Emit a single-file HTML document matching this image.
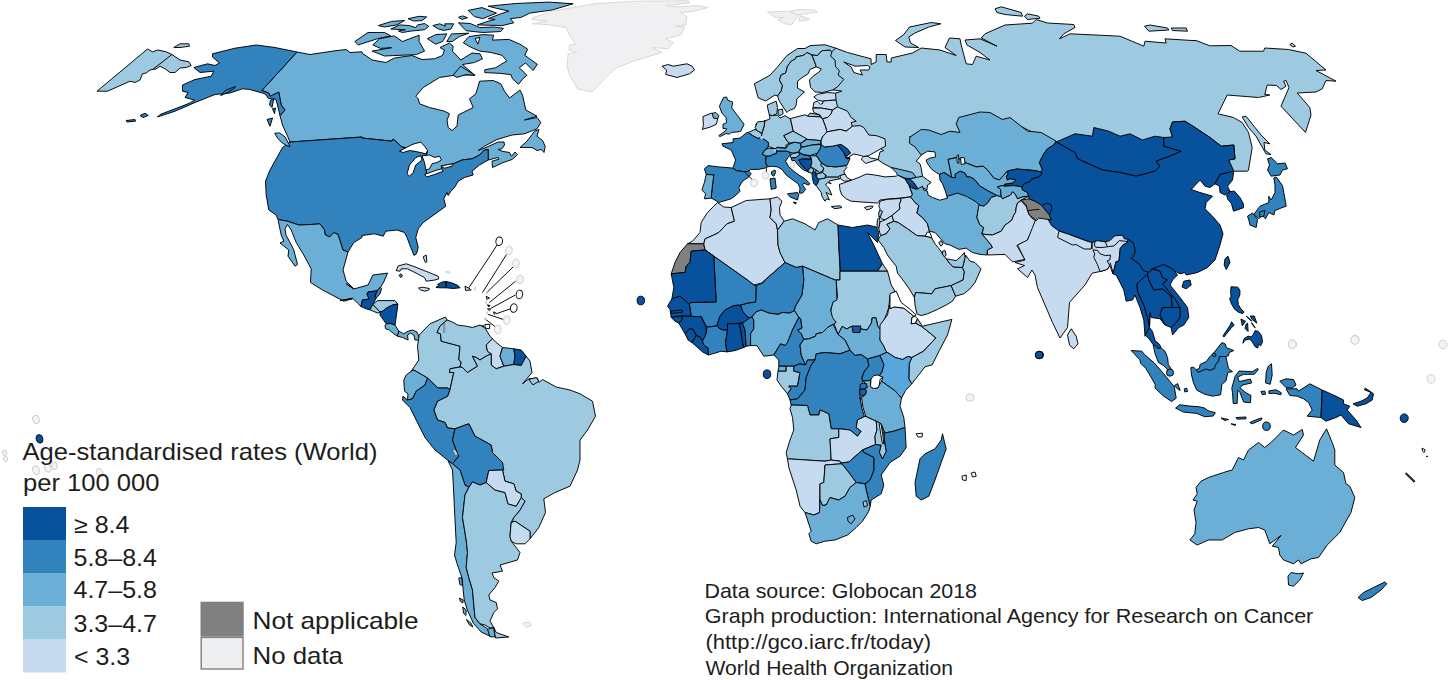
<!DOCTYPE html>
<html lang="en">
<head>
<meta charset="utf-8">
<title>Age-standardised rates (World) per 100 000 – Globocan 2018</title>
<style>
html,body{margin:0;padding:0;background:#fff;}
body{width:1448px;height:680px;overflow:hidden;position:relative;font-family:"Liberation Sans",sans-serif;color:#1a1a1a;}
svg{position:absolute;left:0;top:0;}
svg.txt text{font-family:"Liberation Sans",sans-serif;}
svg.map path,svg.map circle,svg.map ellipse{stroke:#000;stroke-width:.95;stroke-linejoin:round;}
.c5{fill:#08519c}.c4{fill:#3182bd}.c3{fill:#6baed6}.c2{fill:#9ecae1}.c1{fill:#c6dbef}.na{fill:#808080}
.map .nd{fill:#f0f0f2;stroke:#d6d6d6}.w{fill:#fff}
.map .ul{fill:#7fb8dc;stroke:none}
.map .ln{fill:none}
.map .lk{fill:#cfd8e2;stroke:#444;stroke-width:.5}
.map .dot{fill:#f4f4f4;stroke:#c4c4c4;stroke-width:.8}
</style>
</head>
<body>
<svg class="map" width="1448" height="680" viewBox="0 0 1448 680">
<!-- 05_pacific.txt -->
<ellipse class="dot" cx="36" cy="419.5" rx="3.2" ry="4.3" transform="rotate(-15 36 419.5)"/>
<ellipse class="c5" cx="39.5" cy="438.8" rx="3.3" ry="4.2" transform="rotate(-20 39.5 438.8)"/>
<ellipse class="dot" cx="4.6" cy="452.8" rx="2" ry="2.8" transform="rotate(-20 4.6 452.8)"/>
<ellipse class="dot" cx="5.6" cy="458.9" rx="2" ry="2.8" transform="rotate(-20 5.6 458.9)"/>
<ellipse class="dot" cx="36" cy="470.3" rx="3.2" ry="4.5" transform="rotate(-20 36 470.3)"/>
<ellipse class="dot" cx="47.8" cy="468" rx="3.2" ry="4.3" transform="rotate(-15 47.8 468)"/>
<ellipse class="dot" cx="54.4" cy="465.8" rx="2.8" ry="3.8" transform="rotate(-15 54.4 465.8)"/>
<ellipse class="dot" cx="99.8" cy="472.9" rx="3.2" ry="4.5" transform="rotate(-20 99.8 472.9)"/>
<path class="w" d="M1422 448.1L1425.1 449.8L1424.2 452.5L1422.6 451.2Z"/>
<ellipse class="c5" cx="1427" cy="456.4" rx=".5" ry=".5" transform="rotate(0 1427 456.4)"/>
<path class="c5" d="M1405.4 473.8L1406.4 473L1415 481.2L1414 482.2Z"/>
<!-- 10_namerica.txt -->
<path class="c3" d="M297 52L310 54.5L335 50.8L346.2 49.5L350 52.5L362 51.8L362 53L372 60L385.8 62.5L394.5 58L412 55.5L422 59.5L434.5 58.8L442.5 55.5L444.5 50L440 47.5L449.5 43L453.2 46.2L452.5 51.2L460.8 60L472 53L480 53.8L482.5 58.8L474.5 62.5L462.5 64.5L474.5 75L455.8 75L439.5 77.5L423.2 87.5L415.8 96.2L418.2 98.8L419.5 103.8L429.5 107.5L444.5 111.2L449.5 113.8L447 120L448.2 127.5L452 130.5L457 126.2L458.2 115L473.2 107.5L469.5 98.8L475.8 93.8L478.2 86.2L479.5 81.2L493.2 80.5L500.8 83.8L504.5 91.2L509.5 98L520 90L522.5 95L525.8 110L537 116.2L524.5 120L537 117.5L540.8 122.5L537 128.8L524.5 133.8L512 135L497 139.5L484.5 146.2L478.2 150.5L487 147L498.2 142L504 142L504.5 145L502 148.8L498.2 149.5L502 151.2L509.5 152.5L511.5 156.2L515 152L517.5 154.5L512 159.5L502 163L492.5 167.5L492 161.2L499 159.2L498.2 157.5L488.2 160L488.2 149.5L484.5 150L479.5 155L472 158.8L462 160L453.2 163.8L441.5 166.2L442 169.5L425.8 175L426.5 170L424.5 160L427.5 151.2L402 147L393.2 139L392 141.2L362 138L362 137L290 142L287.5 136.2L282.5 125L280 115.5L285 110L281.2 105L278.8 92.5L270 97L268.8 93L261.8 90.5Z"/>
<path class="c4" d="M290 142L362 137L362 138L392 141.2L393.2 139L402 147L427.5 151.2L424.5 160L426.5 170L425.8 175L442 169.5L441.5 166.2L453.2 163.8L462 160L472 158.8L479.5 155L484.5 150L488.2 149.5L488.2 160L479.5 165L472 171.2L473.2 175L464.5 177.5L458.2 181.2L454.5 187.5L450.8 191.2L448.2 195.5L447 192.5L443.8 198.8L445.8 206.2L432 216.2L423.2 222.5L418.2 228.8L415.8 237.5L418.2 247.5L416.5 253.8L414 255.5L410.8 247.5L407 237.5L404.5 232.5L397 230L385.8 231.2L383.2 236.2L374.5 233.8L362 235.5L362 237.5L353.8 242.5L348 252L343 250L338 234.5L333.8 232.5L329.5 237L325 234.5L324.5 230L320 223.8L311.2 224.5L298.8 225L287.5 221.2L278 219.5L276.2 215L268.8 210L266.2 195L265.5 181.2L270 170L282.5 147.5Z"/>
<path class="w" d="M399.5 151.2L412 144.5L420.8 142L424.5 146.2L427.5 150.5L425.8 153.8L418.2 152L409.5 150.5L403.2 152.5Z"/>
<path class="w" d="M415.8 157.5L420.8 155.8L422 160L415.8 165L413.2 172.5L409.5 176.2L407 173.8L409.5 165Z"/>
<path class="w" d="M422 155.8L429.5 155L434.5 157.5L439.5 156.2L441.5 160L437 162.5L432 163.8L429.5 168.8L425.8 170L424.5 162.5Z"/>
<path class="w" d="M424.5 174.5L437 170L442 168.8L443.2 171.2L434.5 174.5L427 177Z"/>
<path class="w" d="M440.8 166.2L448.2 164.5L453.2 163.8L452 166.2L444.5 168.2Z"/>
<path class="c3" d="M520 147.5L527 141.2L534.5 131.2L539 129.5L537 136.2L542.5 140.5L545.2 146.2L544 152.5L541.5 149.5L537 150.5L532 147.5Z"/>
<path class="c4" d="M212.5 53.8L235 48.2L256.2 45L275 47.5L297 52L261.8 90.5L268.8 93L270 96.2L278.8 92L281.2 105L285 110L280 115.5L276.2 100L272.5 98L268.8 98.8L265 93.8L250 89.5L242.5 88.8L230 93L215 94.5L195 102.5L175 111.2L157.5 117L160 114.5L175 108.8L190 103L194.5 100L185 97.5L188 92.5L182.5 91.2L182.5 85L195 79.5L211.2 76.2L213.8 71.2L200 72.5L193.8 67.5L207.5 63.8L215 65.5L219.5 63L212.5 57Z"/>
<path class="c4" d="M220.5 95.5L226.2 90L235.5 86.5L233.8 88.8L225 93.8Z"/>
<path class="c4" d="M126.2 120.5L135 119.5L135.5 121.2L127 122Z"/>
<path class="c4" d="M140 115.5L145 113.2L148.2 115.5L143 117.5Z"/>
<path class="c4" d="M270.5 100L273.8 98.8L272 107.5L269.5 105Z"/>
<path class="c4" d="M272.5 108.8L275.5 108L274.5 113.8Z"/>
<path class="c4" d="M267 119.5L272.5 118L270 126.2Z"/>
<path class="c3" d="M274.7 133.3L279.7 132.9L285 136.9L287.9 142.2L290.1 146.6L287 145.8L281.7 142.6L277.7 138.2Z"/>
<path class="c2" d="M97 91.2L147.5 49L152.5 51.8L158 50L166.2 51.8L172 54.5L180 60L188.8 61.8L191.2 65.5L186.2 67.5L180 68L175 72.5L170 72.5L165 68.8L160 66.2L156.2 68.8L150 70L146.2 73L142.5 73.8L140 80L135 82.5L130 81.2L107.5 91.2Z"/>
<path class="c2 ln" d="M172 54.5L153 69.2"/>
<path class="c2" d="M173.8 47.5L180 43.8L188.8 43.8L189.5 46.2L180 47.5Z"/>
<path class="c3" d="M354.8 41.5L368 32.5L384.6 32.5L390.8 35.9L377.6 38.7L358.3 44.9Z"/>
<path class="c3" d="M372.8 44.9L379.7 38.7L394.2 35.9L402.5 41.5L419.1 35.2L419.1 41.5L424.6 51.1L416.3 54.6L384.6 56L372.1 51.1L391.5 47.7L380.4 48.4Z"/>
<path class="c3" d="M378.3 25.6L391.5 21.4L404.6 20.5L397 24.9L384.6 27Z"/>
<path class="c3" d="M390.8 29L399.8 24.9L409.4 25.6L415.7 27.6L417.7 24.9L424.6 23.5L428.8 26.3L424.6 29.7L410.8 31.1L402.5 32.5L398.4 31.1L405.3 29.7L395.6 29.3Z"/>
<path class="c3" d="M408.1 18.7L419.1 16.3L426.7 16.9L421.9 20.7L413.6 21Z"/>
<path class="c3" d="M432.9 25.6L439.8 23.8L445.4 26.3L444.7 23.8L453.7 23.8L450.9 29L444 30.4L438.5 29Z"/>
<path class="c3" d="M427.4 38.7L435.7 34.6L446.8 33.9L442.6 41.5L435.7 44.2Z"/>
<path class="c3" d="M446.8 41.5L451.6 33.9L468.9 33.2L459.2 36.6L452.3 41.5Z"/>
<path class="c3" d="M458.5 22.8L470.2 23.5L479.9 27.6L493.7 27L503.4 28.3L500.7 31.5L482.7 32.5L466.1 30.7Z"/>
<path class="c3" d="M458.5 17.3L462.6 15.9L467.5 17.7L462 19.4Z"/>
<path class="c3" d="M468.2 10.4L482 7.6L496.5 13.1L482.7 18.7L474.4 16.6Z"/>
<path class="c3" d="M488.2 6.2L515.9 3.5L549 2.1L573.2 3.8L552 10L529.7 13.1L521.4 17.3L510.3 18.7L513.8 22.8L502 25.6L477.2 24.9L485.5 22.1L495.1 19.4L488.2 18.7L500.7 13.8L508.9 11.1L496.5 8.3Z"/>
<path class="c3" d="M463.3 42.8L468.9 36.6L482.7 34.6L493.7 35.2L492.4 40.1L508.9 39.4L520 44.2L527.6 49.1L524.8 55.3L537.3 64.3L533.1 70.5L525.5 62.9L519.3 67.7L526.9 75.3L522.1 79.5L518.6 84.3L512.4 78.8L511 74.6L499.3 73.3L484.8 72.6L484.8 69.8L495.8 67.7L506.9 60.8L502 55.3L491 52.5L479.9 51.1L470.2 47Z"/>
<path class="w" d="M475.1 38.7L479.9 37.3L477.9 44.2Z"/>
<path class="c3" d="M453 75.3L460.6 66.3L475.1 75.3L466.1 74.6L457.1 77.4Z"/>
<path class="nd" d="M532 18L552 11.2L594.5 3.8L637 1.2L688.2 0.8L689.5 3L665.8 5.5L677 7L697 5.5L708.2 7.5L694.5 11.2L680.8 12.5L687 17L685.8 25L675.8 26.2L684.5 27L680.8 35L665.8 38.8L673.2 42.5L668.2 48.8L652 47.5L662 52.5L637 60L617 67.5L608.2 75L592 92L577.5 88.8L569.5 75L567 66.2L568.2 53.8L577 52.5L569 50L569.5 45L575.8 44.5L569.5 35L565.8 27.5L547 24.5L532.5 23.8L547 21.2L532 19.5Z"/>
<path class="c1" d="M662 66.2L668.2 64.5L673.2 66.2L687 63.8L692 66.2L694.5 70L689.5 73.8L677 77.5L665.8 74.5L666.5 70Z"/>
<path class="c3" d="M278 219.5L287.5 221.2L298.8 225L311.2 224.5L320 223.8L324.5 230L325 234.5L329.5 237L333.8 232.5L338 234.5L343 250L348 252L343 270L346.2 281.2L353.8 288.8L346.2 283.8L353.8 289L368.1 285L372.8 275L387.5 273.1L383.8 281.9L381.2 286.2L376.9 290.9L368.1 291.9L366.9 294.4L369.4 299L362.5 300L361 306.5L357.5 303.1L352.5 298.1L340 300.6L352.5 298.8L343.8 301.2L322.5 290L310.5 282.5L311.2 268.8L303.8 255L296.2 242.5L291.2 230L287.5 224.5L285 228.8L286.2 235.5L290 242.5L293.8 250L297.5 264.5L295 266.2L288 256.2L288.8 250L280 243L283.8 241.2L281.2 235Z"/>
<path class="c4" d="M376.9 290.9L380.6 287.2L381.6 288.5L380 293.8L376.2 298.1L375 296.2Z"/>
<path class="c5" d="M361 306.5L362.5 300L369.4 299L366.9 294.4L368.1 291.9L376.9 290.9L375 296.2L376.2 298.1L372.8 304.4L370 309.8L366.2 308.8Z"/>
<path class="c2" d="M370 309.8L372.8 304.4L380 311.9L378.1 313.1L373.8 311.5Z"/>
<path class="c2" d="M372.8 304.4L377.5 300.6L395 300.6L397.8 304L392.5 305L387.5 307.5L382.5 311.2L380 311.9Z"/>
<path class="c5" d="M380 311.9L382.5 311.2L387.5 307.5L392.5 305L397.8 304L397.2 310L395 325L390 323.5L386.2 323.8L380 315Z"/>
<path class="c3" d="M386.2 323.8L390 323.5L395 325L398.8 331.2L397.5 336.2L393.8 333.8L389.4 330L385.6 328.8L385 325.6Z"/>
<path class="c3" d="M398.8 331.2L403.8 333.8L408.1 331.2L412.5 330L416.9 331.9L418.8 336.2L420 340L415 340L413.8 335L410.6 333.1L407.5 335L408.1 340L402.5 337.5L397.5 336.2Z"/>
<path class="c1" d="M396.2 270.6L398.1 266L406.2 263.8L415 266.9L427.5 271.9L438.1 276.2L438.8 278.8L435 280L426.2 281.2L424.4 277.5L417.5 273.8L407.5 268.8L401.2 268.8L400 271.2Z"/>
<path class="c4" d="M399 275.6L400.6 273.8L402.5 275.6L401 277.5Z"/>
<path class="c1" d="M423.1 256.9L426.2 255L426.9 261.9L425.4 262.5Z"/>
<path class="c1" d="M418.5 288.1L422.5 287.2L429.4 288.5L428.8 290L425 291.2L420.6 290Z"/>
<path class="c5" d="M436.2 286.9L439.4 285.6L437.5 284.4L442.5 281.9L446.2 281.5L446.2 287.8L440 287.8L436.2 287.5Z"/>
<path class="c5" d="M446.2 281.5L452.5 283.1L458.1 285.6L460 287.8L453.1 288.5L446.2 287.8Z"/>
<path class="nd" d="M445 271.9L448.8 271L450.6 273.5Z"/>
<path class="c1" d="M465 286.2L470 288.8L471.2 290L465.6 290.4Z"/>
<path class="nd" d="M473.8 288.8L476.2 286.9L475 290.6Z"/>
<path class="w ln" d="M468.8 287.8L490.6 255L497 245"/>
<path class="w ln" d="M482.5 292.5L506.2 255L506.5 254.5"/>
<path class="w ln" d="M486.2 293.1L513.1 266.9"/>
<path class="w ln" d="M489.4 302.5L515.6 281.2"/>
<path class="w ln" d="M490.6 308.5L515 295.2"/>
<path class="w ln" d="M496 313.8L510 309"/>
<path class="w ln" d="M488.1 314.4L503.1 319.4"/>
<path class="w ln" d="M485.6 319.4L495 326.5"/>
<ellipse class="w" cx="499.2" cy="241.2" rx="3.3" ry="4.3" transform="rotate(10 499.2 241.2)"/>
<ellipse class="dot" cx="509" cy="250.5" rx="3.3" ry="4.3" transform="rotate(10 509 250.5)"/>
<ellipse class="dot" cx="516" cy="263.5" rx="3.3" ry="4.3" transform="rotate(10 516 263.5)"/>
<ellipse class="dot" cx="520" cy="279.4" rx="3.3" ry="4.3" transform="rotate(10 520 279.4)"/>
<ellipse class="w" cx="519.4" cy="294.4" rx="3.3" ry="4.3" transform="rotate(10 519.4 294.4)"/>
<ellipse class="w" cx="513.8" cy="308.1" rx="3.3" ry="4.3" transform="rotate(10 513.8 308.1)"/>
<ellipse class="dot" cx="506.9" cy="320" rx="3.3" ry="4.3" transform="rotate(10 506.9 320)"/>
<ellipse class="dot" cx="497.8" cy="329.4" rx="3.3" ry="4.3" transform="rotate(10 497.8 329.4)"/>
<path class="w" d="M486.2 296.2L489.4 298.1L486.9 299.4Z"/>
<path class="c5" d="M487.5 304.8L490 305.6L488.8 306.9Z"/>
<path class="w" d="M487.5 308.8L490.6 308.8L489.4 310.6Z"/>
<path class="w" d="M493.5 311.9L495.6 312.5L494.4 314.4Z"/>
<path class="w" d="M485 324.4L490 324.4L489.4 328.8L485.2 328.1Z"/>
<path class="w" d="M480 326.2L483.8 325.6L483.1 327.5Z"/>
<ellipse class="dot" cx="486.9" cy="292.5" rx=".6" ry="1.6" transform="rotate(0 486.9 292.5)"/>
<ellipse class="dot" cx="486.2" cy="302.5" rx=".6" ry="1.6" transform="rotate(0 486.2 302.5)"/>
<ellipse class="dot" cx="486.9" cy="313.1" rx=".6" ry="1.6" transform="rotate(0 486.9 313.1)"/>
<ellipse class="dot" cx="485" cy="318.8" rx=".6" ry="1.6" transform="rotate(0 485 318.8)"/>
<!-- 20_samerica.txt -->
<path class="c2" d="M419.2 335L430 323.8L445.5 317L447 320L440 326.2L437 332.5L440.5 333.8L441.2 341.2L460 346.2L458.8 360L461.2 362L460 367L450 368.8L449.5 372.5L453.8 372.5L450 389.5L447.5 388L438 388L427.5 378L413.8 370L411.2 371.2L418.8 360L417.5 346.2Z"/>
<path class="c3" d="M411.2 371.2L413.8 370L427.5 378L425 385L416.2 391.2L412.5 398.8L407.5 400L408 393.8L404.5 391.2L403.8 380L406.2 375Z"/>
<path class="c2" d="M440.5 333.8L437 332.5L440 326.2L447 320L452.5 322L457.5 325L466.2 326.2L472.5 327.5L480 325L485 328L490 336.2L492.5 338.8L486.2 345L487.5 351.2L491.2 353.8L486.2 356.2L480 360L476.2 357.5L472.5 356.2L477.5 366.2L467.5 372.5L462.5 367.5L460 367L461.2 362L458.8 360L460 346.2L441.2 341.2Z"/>
<path class="lk" d="M443.5 323.8L444.8 323.2L444.8 332.5L443.5 332.5Z"/>
<path class="c1" d="M492.5 338.8L496.2 342.5L502.5 347.5L500 356.2L503.8 366.2L496.2 368.8L491.2 365L491.2 353.8L487.5 351.2L486.2 345Z"/>
<path class="c3" d="M502.5 347.5L513.8 348.8L515 356.2L513.8 364.5L505 366.2L503.8 366.2L500 356.2Z"/>
<path class="c5" d="M513.8 348.8L521.2 350L526.2 356.2L521.2 365.5L513.8 364.5L515 356.2Z"/>
<path class="c2" d="M453.8 372.5L449.5 372.5L450 368.8L460 367L462.5 367.5L467.5 372.5L477.5 366.2L472.5 356.2L476.2 357.5L480 360L486.2 356.2L491.2 353.8L491.2 365L496.2 368.8L503.8 366.2L513.8 364.5L521.2 365.5L526.2 356.2L530 361.2L532 372.5L522.5 383.8L528.8 378.8L537.5 378L538.8 382.5L542.5 379.5L556.2 387L570 390L580 393.8L592.5 401.2L595.5 416.2L587.5 430L580 440L580 460L577.5 470L570 486.2L555 492.5L543.8 498.8L545.5 512.5L538.8 527.5L530 538.8L530 531.2L515 521.2L511.2 522.5L513.8 517.5L520 510L525 501.2L521.2 497.5L521.2 493.8L516.2 491.2L513.8 483.8L505 481.2L502.5 470L502.5 462.5L492.5 452.5L491.2 445L475 436.2L468.8 423.8L455 428.8L447.5 428L445 422.5L437.5 420L433.8 410L437.5 401.2L447.5 396.2L450 389.5Z"/>
<path class="c2" d="M528.8 379.5L536.2 377.5L538.8 381.2L533 385Z"/>
<path class="c4" d="M407.5 400L412.5 398.8L416.2 391.2L425 385L427.5 378L438 388L447.5 388L450 389.5L447.5 396.2L437.5 401.2L433.8 410L437.5 420L445 422.5L447.5 428L455 428.8L452.5 440L456.2 450L458.8 456.2L452.5 463.8L447.5 460L435 450L425 437.5L416.2 420L410 407.5L402.5 400L403 396.2Z"/>
<path class="c4" d="M455 428.8L468.8 423.8L475 436.2L491.2 445L492.5 452.5L502.5 462.5L503.8 470L488.8 470.5L486.2 482.5L480 485L472.5 482L468.8 487.5L465 485L460 470L452.5 463.8L458.8 456.2L456.2 450L452.5 440Z"/>
<path class="lk" d="M452.5 450L455 449.5L458 454.5L455.5 455.5Z"/>
<path class="c3" d="M448 460.8L452.5 463.8L460 470L465 485L468.8 487.5L465 495L462.5 517.5L466.2 540L467.5 552.5L466.2 567.5L468.8 577.5L472.5 590L473.8 605L475 617.5L480 623.8L487.5 628.8L490 636.2L481.2 632L473.5 623.5L467.5 610.5L464.2 600L462 578L457.5 565L454.5 555L456.2 542.5L455 520L453.8 495L452.5 470Z"/>
<path class="c3" d="M458.8 578L461.5 577.5L462.5 585.5L459.8 584.5Z"/>
<path class="c3" d="M459.5 598L463.2 600L462.8 603L460.2 601.2Z"/>
<path class="c3" d="M462.8 607L466.2 610L465.8 615.5L463.5 613Z"/>
<path class="c3" d="M466.5 619.5L470.8 623L473 627L469.5 625Z"/>
<path class="c2" d="M465 495L468.8 487.5L472.5 482L480 485L486.2 482.5L495 490L505 492.5L508 503.8L516.2 506.2L521.2 497.5L525 501.2L520 510L513.8 517.5L511.2 522.5L510 536.2L511.2 541.2L520 552.5L517.5 560L500 565L502.5 571.2L492 573L493.8 577.5L498.8 581.2L495 587.5L488.8 595L490 600L496.2 602.5L497.5 608.8L493.8 612.5L490 621.2L493.8 627.5L490 628L485 625L480 623.8L475 617.5L473.8 605L472.5 590L468.8 577.5L466.2 567.5L467.5 552.5L466.2 540L462.5 517.5Z"/>
<path class="c1" d="M488.8 470.5L502.5 470L505 481.2L513.8 483.8L516.2 491.2L521.2 493.8L521.2 497.5L516.2 506.2L508 503.8L505 492.5L495 490L486.2 482.5Z"/>
<path class="c1" d="M511.2 522.5L515 521.2L530 531.2L530 538.8L525 543.8L516.2 543.8L511.2 541.2L510 536.2Z"/>
<path class="c3" d="M487.5 629.2L493.8 627.5L495 636.8L490 636.8Z"/>
<path class="c2" d="M493.8 627.5L496.2 632.5L508.8 637L495.5 638Z"/>
<path class="nd" d="M522.5 623L530 622L531.2 625.5L526.2 627.5Z"/>
<!-- 30_russia.txt -->
<path class="c2" d="M835.6 48.1L847.5 52.5L871 58.8L871.2 64.5L876.2 62L876.2 54.5L886.2 54.5L887 62L891.2 62L891.2 58L912.5 53L921.2 48L940 50L956.2 55.5L945 47.5L949.5 38L960 38.8L961.2 45L966.2 63.8L972.5 64.5L976.2 56.2L990 60L980 52.5L967 45L965 40L980 38.8L997 46.2L981.2 38L985 33.8L1005 25L1032.5 23.2L1036.2 19.5L1047.5 23L1073.8 24.5L1075 27.5L1063.8 33.8L1059.5 38.8L1070 33.8L1120 36.2L1143.8 46.2L1145 41.2L1166.2 43L1165 38.8L1192 40.5L1196 40.5L1209.8 45.8L1231 45.5L1239.8 51.2L1263.5 51.2L1264.8 48L1288.5 49.5L1306 53.2L1326 70L1316 70.5L1336 81.2L1326 80.5L1322.2 88.8L1316 92L1297.2 93L1309.8 107.5L1311 115L1305.5 132.5L1281 106.2L1289 87.5L1286 80.5L1283.5 81.2L1286 86.2L1281 89.5L1276.5 85.5L1267.2 85L1264.8 94.5L1269.8 95L1258.5 97.5L1227.2 95L1218 113.8L1233.5 117.5L1242.2 122.5L1248.5 132.5L1252.2 147.5L1248.5 170L1247.5 171.2L1233.8 171.2L1225 167.5L1228.8 160L1235 158.8L1233.8 145L1221.2 146.2L1210 137.5L1195 127.5L1185 121.2L1172.5 122L1170 128.8L1172.5 137L1163.8 140L1155 138.8L1142.5 142.5L1130 136.2L1120 138.8L1108.8 133.8L1093.8 130L1092.5 138.8L1075 136.2L1056.2 144.5L1037.5 134.5L1012.5 122.5L1010 120L1002.5 122L990 115L980 114.5L958.8 120L958.8 123.8L962.5 135L950 133.8L941.2 137L928.8 132.5L921.2 132L912.5 139L912.5 136.2L911.9 143.1L917.5 146.9L922.5 153.8L916.2 161.2L920 163.8L921.2 168.1L922.5 176.2L916.2 178.8L912.5 173.8L905 171.9L897.5 170L891.2 167.5L885 164.4L878.1 160L878.5 158.1L880 151.9L883.8 150.6L881.2 149.4L880 148.1L883.8 146.2L883.8 138.8L876.2 136.9L868.8 136.2L862.5 128.8L860 126.9L852.5 127.5L850 125.6L848.8 122.5L853.8 121.2L848.8 117.5L845 111.2L835 106.9L833.8 100L835.6 93.1L841.9 91.2L833.8 90L832.5 90L836.2 86.9L842.5 79.4L836.9 75L838.1 70.6L834.4 66.9L833.8 60L829.4 56.2L830.6 51.9Z"/>
<path class="w" d="M843.8 62L848.8 63.8L855 66.2L867.5 65.5L870 67L868.8 70L860 70L862.5 75L853.8 72.5L851.2 67Z"/>
<path class="c2" d="M895.5 40.5L903.8 34.5L909.5 27L931.2 22.5L940.8 23.8L928.8 27L915 33L908.8 37L910.5 43L918.8 47.5L905 47Z"/>
<path class="c2" d="M995 8.8L1001.2 6.8L1021.2 12.5L1022.5 16.2L1005 14.5L997 12.5Z"/>
<path class="c2" d="M1024.5 16.2L1027.5 13.8L1038.8 16.2L1040 18.2L1027.5 19.5Z"/>
<path class="c2" d="M1144.5 26.2L1150 25L1167.5 28L1168.8 30L1148.8 31.2Z"/>
<path class="c2" d="M1171.2 28L1186.2 28L1187.5 31.2L1172.5 30.5Z"/>
<path class="c2" d="M1289.8 44.5L1292.2 43.2L1295.5 46.2L1293 47Z"/>
<path class="c2" d="M1242.2 117L1246 116.2L1261 135L1269.8 143.8L1264 142.5L1264.8 150L1271 154.5L1266 153.8L1261 145L1256 136.2L1248.5 127.5Z"/>
<path class="nd" d="M767.5 12L786.2 11.2L795 13.8L798.8 15L791.2 25L785 23.8L777.5 20L783.8 17.5L775 17.5Z"/>
<path class="nd" d="M790 11.2L800 9.5L813.8 10L817.5 12L807.5 13.8L796.2 14.5Z"/>
<path class="nd" d="M800 15.5L810 19.5L798.8 21.2Z"/>
<!-- 32_europe.txt -->
<path class="ul" d="M770 145.6L788.8 142.5L802.5 141.2L822.5 140L840 146.2L846.2 157.5L844.4 165.6L837.5 176.2L820 178.8L814.4 173.1L809.4 171.5L800 161.9L793.8 157.5L790.6 154.4L777.5 151.9Z"/>
<path class="c2" d="M754.4 83.8L770 75.2L777.5 66.9L786.9 55.6L797.5 48.5L805 48.5L810 45.6L825 44.8L835.6 48.1L831.9 51.9L830 50.2L822.5 50.6L820 52.5L817.5 55.6L811.9 55L806.9 52.5L805 54.4L802.5 55.6L796.2 56.9L795.6 58.8L791.2 61.2L787.5 66.2L785.6 73.1L781.2 74.8L779.4 80L782.5 85.6L781.2 91.2L777.5 96L775 95L765.6 101L758.1 97.8Z"/>
<path class="c2" d="M806.9 52.5L811.9 55L815.6 64.4L816.2 66.9L810 69.4L808.1 73.8L803.1 76.9L797.5 81.2L797.5 88.1L804.4 91.9L800 96.2L796.9 98.8L796.2 105L794.4 108.5L788.8 110.6L786.9 112.5L783.1 106.9L779.4 101.2L777.5 96L781.2 91.2L782.5 85.6L779.4 80L781.2 74.8L785.6 73.1L787.5 66.2L791.2 61.2L795.6 58.8L796.2 56.9L802.5 55.6L805 54.4Z"/>
<path class="c2" d="M817.5 55.6L820 52.5L822.5 50.6L830 50.2L831.9 51.9L830.6 56.2L835 60L835.6 66.9L839.4 70.6L838.1 75L843.8 79.4L837.5 86.9L832.5 90L822.5 92.5L815 91.9L810.6 87.5L809.4 80L813.1 76.2L820 71.2L821.2 68.8L816.2 66.9L815.6 64.4L811.9 55Z"/>
<path class="c2" d="M767.2 105L776.2 101.2L777.5 107.5L776.9 113.8L772.5 115.6L769.4 115L768.1 110Z"/>
<path class="c2" d="M778.1 110L782.5 109L783.1 113.8L780 115.6L778.1 114.4Z"/>
<path class="c1" d="M813.8 96.9L817.5 94.4L827.5 92.5L835.6 93.1L836 100L827.5 100.6L822.5 101.2L817.5 100Z"/>
<path class="c1" d="M813.1 107.5L813.8 102.5L817.5 101.2L820.6 104.4L823.1 103.1L822.5 101.2L827.5 100.6L836 100L837.5 106.9L832.5 110L821.2 108.1Z"/>
<path class="c1" d="M812.5 108.1L821.2 108.1L832.5 110L831.2 113.8L827.5 117.5L822.5 118.8L820 115L813.8 112.5Z"/>
<path class="c2" d="M807.5 116.2L810 113.1L819.4 114.8L820 116.9L810 116.9Z"/>
<path class="c1" d="M822.5 118.8L827.5 117.5L831.2 113.8L832.5 110L837.5 106.9L847.5 111.2L851.2 117.5L856.2 121.2L851.2 122.5L851.9 125L852.5 126.2L846.2 131.2L840 129.4L826.9 131.9L825.6 126.9Z"/>
<path class="c1" d="M790.6 118.5L805 114.8L807.5 116.2L820 116.9L822.5 118.8L825.6 126.9L826.9 131.9L822.5 136.9L821.2 140.6L806.9 139.4L793.1 131.2L790.6 120Z"/>
<path class="c3" d="M719.4 106.3L723.5 97.5L726.6 97L727.6 100.1L732.7 102.1L731.7 107.8L737.4 115.5L744.1 124.3L740.5 131.5L731.2 132.5L729.6 134.1L726 133.6L719.9 136.6L718.8 135.6L726 130.5L726.6 128.9L723 128.4L723 124.3L726.6 122.7L726 117.6L721.9 113Z"/>
<path class="c1" d="M702.4 129.4L703.4 125.3L702.9 116.6L708 114.5L712.1 113L713.2 114L713.2 117.6L717.8 118.6L716.3 124.3L710.6 126.9Z"/>
<path class="c3" d="M712.1 113.5L715.7 112.4L718.8 115.5L717.8 118.6L713.7 118.1L712.9 115.5Z"/>
<path class="c2" d="M764.4 121.2L770 118.8L769.4 115L772.5 115.6L777.5 115L780 118.1L785 115.6L788.8 118.1L790.6 118.5L790.6 120L793.1 131.2L783.8 135.6L786.9 140.6L789.4 143.1L786.2 145L785.6 148.1L777.5 147.2L775 148.8L770 146.9L768.1 146.9L768.5 142.5L761.2 137.5L761.9 133.8L764.4 125L765 120Z"/>
<path class="c2" d="M755.6 125L757.5 121.9L764.4 121.2L764.4 125L761.9 133.1L757.5 131.2L755 127.5L756.9 123.8Z"/>
<path class="c2" d="M748.1 132.5L755 129.4L758.1 131.2L761.9 133.8L761.2 137.5L758.1 138.5L752.5 135.6Z"/>
<path class="c4" d="M721.9 143.8L733.1 142.5L733.1 138.8L740 138.1L746.9 132.5L748.1 132.5L752.5 135.6L758.1 138.5L761.2 137.5L768.5 142.5L768.1 146.9L763.8 151.2L762.5 154.4L766.2 156.2L765.6 162.5L767.5 166.9L765 168.1L758.1 169.4L750.6 169.4L748.8 171.2L745 171.9L736.2 170.6L733.1 167.5L735.6 160L731.2 150L723.1 146.2Z"/>
<path class="c3" d="M762.5 154.4L763.8 151.2L768.1 148.1L775 148.8L776.9 151.2L776.2 153.8L773.1 154.4L770 156.2L766.2 156.2Z"/>
<path class="c3" d="M777.5 147.6L785.8 148.4L788.8 144.4L794.4 142.2L800.6 143.1L801.2 146.9L798.8 151.9L793.8 153.1L790 152.5L786.9 151.2L780 151.2L776.9 151.2L775 148.8Z"/>
<path class="nd" d="M774.2 149.5L775.5 149.5L775.5 150.8L774.2 150.8Z"/>
<path class="c2" d="M783.8 135.6L793.1 131.2L806.9 138.8L802.5 141.9L800.6 143.1L794.4 142.2L789.4 143.1L786.9 140.6Z"/>
<path class="c3" d="M802.5 142.5L806.9 139.4L820.6 140.6L821.2 143.8L811.9 145L803.8 146.9L801.2 146.9L800.6 143.1Z"/>
<path class="c3" d="M801.2 147.5L803.8 146.9L811.9 145L821.2 144.4L820.6 148.1L817.5 153.1L810 155.6L803.1 154.4L800 152.8L798.8 151.9Z"/>
<path class="c2" d="M790 155.6L792.5 153.8L798.8 152.2L799.4 155L796.2 157.5L791.2 158.1Z"/>
<path class="c4" d="M791.2 158.1L796.2 157.5L799.4 155L800 153.1L803.1 154.8L810 156.2L811.2 158.1L808.8 159L802.5 158.8L798.8 160L801.9 165.6L806.9 170L810 171.9L809.4 172.5L802.5 169.4L797.5 164.4L795 160.6L791.9 160.6Z"/>
<path class="c5" d="M798.8 160L802.5 159L808.8 159.4L811.2 158.8L811.9 162.5L810.6 167.5L808.1 170.6L806.9 170L801.9 165.6Z"/>
<path class="c2" d="M810 155.6L815.4 155.9L817.5 157.1L820.6 161.9L821.5 163.4L820.6 165L823.8 168.1L822.5 171.2L819.4 172.5L816.2 170L813.1 168.1L810.6 167.5L811.9 162.5L811.2 158.1Z"/>
<path class="c2" d="M808.1 170.6L810.6 167.5L813.1 168.5L813.8 171.2L811.2 173.1L809.4 172.5Z"/>
<path class="c2" d="M816.2 170L819.4 172.5L818.8 173.8L815.6 173.1Z"/>
<path class="c5" d="M811.9 173.1L813.8 171.5L815.6 173.1L816.2 176.2L818.8 179.4L818.1 182.5L816.2 185.6L813.8 183.8L812.5 178.8Z"/>
<path class="c2" d="M816.2 176.2L817.5 173.8L822.5 172.5L825.6 175L825 178.1L818.8 179.4Z"/>
<path class="c2" d="M818.8 179.4L825 178.1L827.5 176.9L837.5 176.9L840 178.8L833.8 180L828.8 181.2L831.2 183.8L827.5 182.5L825.6 185L828.8 188.1L831.9 195L828.8 193.8L826.2 192.5L829.4 200L826.9 198.8L825 201.2L821.9 196.2L821.2 192.5L816.2 185.6L818.1 182.5Z"/>
<path class="c2" d="M823.8 168.1L820.6 165L821.5 163.4L823.8 164.4L826.9 166.2L836.2 166.9L845 165.6L846.9 167.5L843.8 171.2L845 174.4L840 175.6L837.5 176.9L827.5 176.9L825.6 175L822.5 172.5Z"/>
<path class="c4" d="M821.2 144.4L824.4 146.9L832.5 146.2L837.5 145L843.8 152.5L845.6 156.9L850 158.1L849.4 160L846.9 165.6L845 165.6L836.2 166.9L826.9 166.2L823.8 164.4L820.6 161.9L817.5 156.9L815.6 155.6L817.5 153.1L820.6 148.1Z"/>
<path class="c5" d="M837.5 145L841.2 144.4L847.5 148.8L850.6 153.1L845.6 156.9L843.8 152.5Z"/>
<path class="c1" d="M821.2 140.6L822.5 136.9L826.9 131.9L840 129.4L846.2 131.2L852.5 126.2L860 125.6L863.8 127.5L868.8 135L876.2 135.6L885 138.8L885.6 146.2L881.9 148.1L868.8 155.6L863.8 156.5L859.4 155.2L853.8 154L850 156.2L847.5 158.8L845.6 158.1L850 158.1L845.6 156.9L850.6 153.1L847.5 148.8L841.2 144.4L837.5 145L832.5 146.2L824.4 146.9L821.2 144.4Z"/>
<path class="c1" d="M861.2 159L863.8 156.5L868.1 156.2L870 157.9L878.1 159.4L865.6 163.5Z"/>
<path class="c4" d="M765.6 162.5L766.2 156.2L770 156.2L773.1 154.4L776.2 153.8L776.9 151.2L780 151.2L786.9 151.2L790 152.5L790 155.6L788.1 157.5L785.6 161.2L788.8 166.9L793.8 171.2L798.8 175L805 178.8L810 183.8L808.1 185L803.8 183.1L802.5 185L805.6 189.4L802.5 193.1L799.4 193.1L800 188.1L798.1 183.8L791.2 178.8L786.2 175L781.9 169.4L777.5 166.9L771.2 166.2L767.5 166.9Z"/>
<path class="c4" d="M787.5 193.8L797.5 192.5L798.8 194.4L797.5 200L790 196.9Z"/>
<path class="c4" d="M770 178.8L775 178.1L776.2 188.1L771.2 189.4Z"/>
<path class="c4" d="M771.2 171.9L775 170L775.6 172.5L773.8 176.2L771.9 175Z"/>
<path class="c4" d="M704.4 168.8L708.1 165.6L718.8 166.9L733.1 168.1L736.2 170.6L745 171.9L748.8 171.2L751.2 173.8L748.8 176.9L742.5 181.2L738.8 187.5L740 191.2L736.2 195L731.2 198.8L718.8 202.5L715 200L711.2 198.1L711.9 190L713.8 175L706.2 174.4Z"/>
<path class="c3" d="M706.2 174.4L713.8 175L711.9 190L711.2 198.1L704.4 198.8L705.6 193.8L701.9 190L704.4 182.5Z"/>
<path class="nd" d="M760.8 136.8L762.5 136.8L762.6 138.6L760.9 138.6Z"/>
<path class="w ln" d="M745 172.5L752.5 179.8"/>
<path class="w ln" d="M766.2 168.1L766.5 172.5"/>
<ellipse class="dot" cx="754" cy="182.9" rx="3.7" ry="3.7" transform="rotate(0 754 182.9)"/>
<ellipse class="dot" cx="765.4" cy="175.4" rx="3.3" ry="3.7" transform="rotate(0 765.4 175.4)"/>
<ellipse class="dot" cx="792.5" cy="165" rx="2.4" ry="2.8" transform="rotate(0 792.5 165)"/>
<path class="c5" d="M793.1 202.2L796.2 202.5L795.6 204Z"/>
<path class="c1" d="M840 175.6L845 174L846.9 177.5L852.5 180.6L844.4 181.2L840.6 178.8Z"/>
<path class="c1" d="M839.4 184.4L845 182.5L852.5 179.8L860 176.9L866.2 174L875 175L885 176.9L896.2 176.2L897.5 175L905 178.8L908.8 185L910 188.1L912.5 195L910 196.9L900 198.1L890 198.8L880 200L877.5 203.1L870 202.5L860 201.9L851.2 201.2L846.2 198.8L841.9 195L840 190Z"/>
<path class="c3" d="M891.2 167.5L897.5 168.8L905 170.6L912.5 172.5L916.2 177.5L910 178.8L905 178.1L897.5 175L896.2 172.5Z"/>
<path class="c5" d="M905 178.8L910 178.8L913.8 182.5L917.5 188.1L915.6 189.4L911.2 185.6L908.8 185Z"/>
<path class="c2" d="M910 178.8L916.2 177.5L922.5 176.2L927.5 180L931.2 182.5L927.5 185L926.9 190L922.5 187.5L920 190L917.5 188.1L913.8 182.5Z"/>
<path class="c2" d="M910 186.2L915 189.4L913.8 190Z"/>
<!-- 34_casia_easia.txt -->
<path class="c3" d="M910 137L921.2 129.5L928.8 130L941.2 134.5L950 131.2L960 132.5L956.2 123.8L958.8 117.5L980 112L990 112.5L1002.5 119.5L1010 117.5L1027.5 131.2L1041.2 132.5L1056.2 141.2L1053.8 145L1047.5 148.8L1043.8 153.8L1039.4 162.5L1042.5 170L1040.6 171.9L1035 170.6L1016.9 169L1007.5 171L999.4 180L993.8 178.1L987.5 170L983.1 166.2L976.2 166.9L965 162.5L956.9 157.5L948.1 159.4L951.9 177.5L944.4 172.5L939.4 174.4L936.2 172.5L931.2 168.8L926.9 162.5L926.2 160L930 158.1L935.6 156.9L935 151.9L927.5 151.2L921.2 155L915 146.9L909.4 143.1L910 136.2Z"/>
<path class="c3" d="M948.1 159.4L956.9 157.5L965 162.5L976.2 166.9L983.1 166.2L987.5 170L993.8 178.1L999.4 180L1007.5 171L1008.1 173.8L1006.2 176.9L1007.5 180L1010 178.5L1016.2 180L1012.5 183.1L1004.4 184.4L1005 186.2L1001.9 185.6L997.5 186.9L1000.6 189.4L1001.2 196.9L996.9 195.6L987.5 190.6L980 186.2L973.8 178.8L969.4 176.9L966.9 176.9L965 173.1L960 171.2L955 174.4L955.6 177.5L951.9 177.5Z"/>
<path class="c5" d="M1007.5 171L1016.9 169L1035 170.6L1040.6 171.9L1042.5 173.5L1038.8 176.9L1031.2 179.4L1030 181.9L1025 183.1L1021.9 186.9L1013.8 185.6L1005 186.2L1004.4 184.4L1012.5 183.1L1016.2 180L1010 178.5L1007.5 180L1006.2 176.9L1008.1 173.8Z"/>
<path class="c3" d="M997.5 186.9L1001.9 185.6L1005 186.2L1013.8 185.6L1021.9 186.9L1022.5 190L1027.5 192.5L1028.8 196.2L1022.5 196.9L1017.5 198.8L1015 193.8L1012.5 191.9L1010.6 195L1002.5 198.8L1001.2 196.9L1000.6 189.4Z"/>
<path class="c4" d="M939.4 174.4L943.8 172.5L951.9 177.5L955.6 177.5L955 174.4L960 171.2L965 173.1L966.9 176.9L969.4 176.9L973.8 178.8L980 186.2L987.5 190.6L996.9 195.6L991.2 197.5L988.1 202.5L983.8 206.2L978.8 206.2L977.5 204L967.5 199L958.8 196.2L947.5 198.5L945 190L942.5 183.8L940 180Z"/>
<path class="w" d="M960.6 157.5L964.4 157.8L965 163.8L961.2 164.4Z"/>
<path class="w" d="M956.9 155.6L958.5 154.8L959 163.1L957.2 162.8Z"/>
<path class="c5" d="M1056.2 142L1075 133.8L1092.5 136.2L1093.8 127.5L1108.8 131.2L1120 136.2L1130 133.8L1142.5 140L1155 136.2L1163.8 137.5L1163.8 146.2L1181.2 151.2L1170 156.2L1156.2 161.2L1160 166.2L1155 171.2L1136.2 176.2L1120 172.5L1102.5 170L1077.5 158.8L1075 152.5Z"/>
<path class="c5" d="M1056.2 142L1075 152.5L1077.5 158.8L1102.5 170L1120 172.5L1136.2 176.2L1155 171.2L1160 166.2L1156.2 161.2L1170 156.2L1181.2 151.2L1163.8 146.2L1163.8 137.5L1172.5 137L1170 128.8L1172.5 122L1185 121.2L1195 127.5L1210 137.5L1221.2 146.2L1233.8 145L1235 158.8L1228.8 160L1233.8 171.2L1220 174.5L1215 183.8L1210 187.5L1205 186.2L1200 180L1191.2 189.5L1200 192.5L1212.5 196.2L1206.2 202.5L1205 208.8L1212.5 216.2L1220 225L1223 233.8L1220 245L1215 260L1207.5 267.5L1197.5 272.5L1186.2 275L1185 272.5L1180 273.8L1172.5 270L1165 265L1160 268.8L1151.2 268.8L1152.5 272.5L1147.5 273.8L1140 272.5L1133.8 267.5L1131.2 260L1135 253.8L1133.8 245L1128.8 243.8L1126.2 246.2L1120 241.2L1107.5 246.2L1093.8 246.2L1085 243.8L1075 240.5L1060 235.5L1050.8 227L1048 219.5L1049.4 215L1046.2 211.2L1041.2 205L1035 201.2L1028.8 198.8L1028.8 196.2L1027.5 192.5L1022.5 190L1021.9 186.9L1025 183.1L1030 181.9L1031.2 179.4L1038.8 176.9L1042.5 173.5L1040.6 171.9L1042.5 170L1039.4 162.5L1043.8 153.8L1047.5 148.8L1053.8 145L1056.2 141.2Z"/>
<path class="c5 ln" d="M1042.5 205L1047.5 203.1L1051.2 205L1051.9 208.8L1049.4 213.8"/>
<path class="c5" d="M1215 183.8L1220 174.5L1233.8 171.2L1232.5 180L1227.5 186.2L1230 191.2L1225 195L1220 192.5L1219.5 186.2Z"/>
<path class="c5" d="M1226.5 195.2L1230 191.7L1234.2 191L1239.8 197.3L1243.3 203.5L1243.6 207.7L1233.5 211.2L1231.4 203.5L1227.9 199.4Z"/>
<path class="c4" d="M1267.5 158.8L1271.2 157.5L1277.5 163.8L1285 163L1287.5 168.8L1282.5 170L1280 175L1271.2 176.2L1267.5 170L1269.5 165Z"/>
<path class="c4" d="M1273.8 178L1276.2 177L1282.5 185.5L1283.8 192.5L1286.2 206.2L1281.2 208L1275 210.5L1273.8 215L1268.8 212.5L1265.5 218.8L1262 215L1258.8 218.8L1253.8 214.5L1260 206.2L1268.8 202.5L1268.8 196.2L1271.2 200L1275 192.5L1275 185Z"/>
<path class="c4" d="M1247.5 216.2L1252.5 213L1257.5 219.5L1256.2 227.5L1250 225L1248.8 220Z"/>
<path class="c4" d="M1259.5 212L1265 210.5L1263.8 216.2L1260 217Z"/>
<path class="c5" d="M1225 258.8L1228 256.2L1230 262.5L1226.2 269.5L1224.2 265Z"/>
<path class="c5" d="M1183.8 281.2L1190 280L1191.2 285L1186.2 288.8L1182 287Z"/>
<!-- 40_africa.txt -->
<path class="c1" d="M717.5 202.5L723.8 207L731.2 207.5L734.5 221.2L727 223.8L718.8 232.5L713.8 235L705 238.8L703.8 243.8L687.5 243.8L692.5 241.2L700 232.5L701.2 222.5L707.5 212.5L713.8 206.2Z"/>
<path class="na" d="M687.5 243.8L703.8 243.8L705 250L691.2 251.2L690 262.5L686.2 266.2L685 272.5L671.2 273.8L675 262.5L680 252.5Z"/>
<path class="c1" d="M731.2 207.5L746.2 200.5L770 198.8L771.2 210L770 217.5L776.2 223.8L777.5 230L778 245L780 252.5L785 262.5L765 280L761.2 283.2L753.8 285L747.5 280L705 250L703.8 243.8L705 238.8L713.8 235L718.8 232.5L727 223.8L734.5 221.2Z"/>
<path class="c1" d="M770 198.8L777.5 197L782 201.2L779.5 207.5L780 215L784.2 221.2L777.5 230L776.2 223.8L770 217.5L771.2 210Z"/>
<path class="c2" d="M777.5 230L784.2 221.2L792.5 218.8L805 223.8L815 230L818.8 222.5L827.5 218.8L838 225L838.8 245L840 271.2L840 280L835 280L802.5 266.2L796.2 267.5L785 262.5L780 252.5L778 245Z"/>
<path class="c5" d="M838 225L852.5 227.5L867.5 225L876.2 227L878.8 232.5L877.5 242.5L867.5 232.5L875 247.5L882.5 263.8L877.5 271.2L840.5 271.2L838.8 245Z"/>
<path class="c2" d="M877.5 271.2L882.5 263.8L887.5 271.2Z"/>
<path class="c2" d="M831.2 206.5L840 205.8L842 207.5L835 208.8Z"/>
<path class="c2" d="M840 271.2L877.5 271.2L887.5 271.2L891.2 285L895 291.2L890 295L888.8 307.5L886.2 315L880.2 329L877.8 326.5L876 317.8L872.2 317.8L871.5 323L867 330L860.8 329L851.2 326.5L846.8 329L842.2 326.5L838 334.5L835 326.2L830 315L832.5 302.5L837.5 297.5L836.2 280L840 280Z"/>
<path class="c3" d="M838 334.5L842.2 326.5L846.8 329L851.2 326.5L860.8 329L867 330L871.5 323L872.2 317.8L876 317.8L877.8 326.5L880.2 329L881.2 326.2L880 340L884 346.2L885.5 350.2L887 352.2L880 355.5L867.5 359L861.2 354.5L855 355.5L850 350.2L845 340Z"/>
<path style="fill:#1f55a5" d="M852 326L860.8 326L860 332.5L853 332.5Z"/>
<path class="c1" d="M880 325L887.5 315L889.4 305L890 308.8L893.8 306.9L903.8 308.1L913.8 316.2L911.9 317.5L911.2 323.8L915.6 323.1L921.8 326.5L935.9 337.9L923.5 351.2L911.8 357.5L907.8 356.5L902.5 359.5L895.2 357.5L887 352.2L885.5 350.2L884 346.2L880 340Z"/>
<path class="w" d="M890 293.8L896.2 291.2L901.2 302.5L909.4 308.8L916.2 315L913.8 316.2L903.8 308.1L893.8 306.9L890 308.8Z"/>
<path class="w" d="M911.9 317.5L915 316.2L917.5 318.8L915.6 323.1L911.2 323.8Z"/>
<path class="c2" d="M915.6 323.1L917.5 318.8L922.5 326.2L951.9 319.4L947.5 335L939.5 350.2L932.2 364.8L925 366.8L911.8 383.8L908.8 379L909.2 363.8L911.8 357.5L923.5 351.2L935.9 337.9L921.8 326.5Z"/>
<path class="c3" d="M802.5 266.2L835 280L836.2 280L836.2 280L836.9 300L833.1 301.9L830.6 310L832.5 317.5L836.2 322.5L833.1 324.4L827.5 327.5L822.5 332.5L816.2 333.8L815.6 336.2L808.8 338.8L803.8 339.4L801.2 333.8L797.5 330L801.9 328.1L800.6 318.8L798.8 317.5L794.4 310.6L795 306.9L801.9 295L803.8 280Z"/>
<path class="c4" d="M755.6 301.9L756.2 285.6L763.8 282.5L765 280L785 262.5L796.2 267.5L802.5 266.2L803.8 280L801.9 295L795 306.9L794.4 310.6L790 313.1L782.5 312.5L778.1 314.4L768.8 313.1L761.2 310L756.2 311.9L751.9 316.9L749.4 318.1L746.2 315.6L742.5 311.2L740.6 305L747.5 303.1Z"/>
<path class="c4" d="M690.6 302.5L716.2 301.9L715 280L713.8 256.2L705 250L747.5 280L753.8 285L756.2 285.6L755.6 301.9L747.5 303.1L740.6 305L733.8 305.6L725 310L720 316.2L716.9 325.6L715 326.2L706.9 327.2L701.2 316.5L691.2 316.5L689.4 304.4Z"/>
<path class="c5" d="M671.2 273.8L685 272.5L686.2 266.2L690 262.5L691.2 251.2L705 250L713.8 256.2L715 280L716.2 301.9L690.6 302.5L689.4 304.4L680 296.2L671.9 298.8L673.8 287.5Z"/>
<path class="c5" d="M667.5 306.2L671.9 298.8L680 296.2L689.4 304.4L691.2 316.2L685 316.2L682.5 315.6L671.2 317.5L670.6 313.5L670 309.4Z"/>
<path class="c5" d="M670.6 311.2L681.9 310L682.5 312.2L671 313.5Z"/>
<path class="c5" d="M671.2 317.5L682.5 316L681.9 320L678.8 323.1L675 321.2Z"/>
<path class="c5" d="M682.5 316L691.2 316.5L701.2 316.5L706.2 327.5L706.2 333.8L702.5 341.2L700 336.9L696.9 336.2L693.1 329.4L689.4 328.8L685 333.8L678.8 323.1L681.9 320Z"/>
<path class="c5" d="M685 333.8L689.4 328.8L693.1 329.4L696.2 335.6L691.9 342.5L688.1 340Z"/>
<path class="c5" d="M691.9 342.5L696.2 335.6L700 336.9L702.5 341.2L703.8 345L708.1 348.1L708.5 355L702.5 351.9L696.2 346.2Z"/>
<path class="c5" d="M716.9 325.6L720 316.2L725 310L733.8 305.6L740.6 305L742.5 311.2L746.2 315.6L749.4 318.1L746.2 320.6L742.5 323.1L727.5 323.8L727.5 330L722.5 330L718.8 328.1Z"/>
<path class="c4" d="M706.9 327.2L715 326.2L716.9 325.6L718.8 328.1L722.5 330L727.5 330L725.6 342.5L726.9 351.9L721.2 351.2L715 353.1L708.5 355L708.1 348.1L703.8 345L702.5 341.2L706.2 333.8Z"/>
<path class="c5" d="M727.5 323.8L739.4 323.5L741.2 332.5L742.5 342.5L743.8 347.5L735 350.6L726.9 351.9L725.6 342.5L727.5 330Z"/>
<path class="c5" d="M739.4 323.5L742.5 323.1L745 330L746.2 346.2L743.8 347.5L742.5 342.5L741.2 332.5Z"/>
<path class="c4" d="M742.5 323.1L746.2 320.6L749.4 318.1L751.9 316.9L753.8 320L753.8 328.8L750.6 333.8L750.6 345.6L746.2 346.2L745 330Z"/>
<path class="c3" d="M751.9 316.9L756.2 311.9L761.2 310L768.8 313.1L778.1 314.4L782.5 312.5L790 313.1L794.4 310.6L798.8 317.5L792.5 330L787.5 342.5L785 345.6L780.6 343.8L773.8 355L763.8 356.2L756.9 345.6L750.6 345.6L750.6 333.8L753.8 328.8L753.8 320Z"/>
<path class="c4" d="M798.8 317.5L800.6 318.8L801.9 328.1L797.5 330L801.2 333.8L803.8 339.4L800 345L801.2 355L805.6 365L800 363.8L793.8 366.2L778.8 366.2L778.8 360L773.8 355L780.6 343.8L785 345.6L787.5 342.5L792.5 330Z"/>
<path class="c3" d="M803.8 339.4L808.8 338.8L815.6 336.2L816.2 333.8L822.5 332.5L827.5 327.5L833.1 324.4L838 334.5L845 340L850 350.2L840 353.8L825 352.5L816.2 353.8L816.2 355L815 360L807.5 360L805.6 365L801.2 355L800 345Z"/>
<path class="c3" d="M778.8 366.2L786.2 366.2L786.2 371.2L778 371.2Z"/>
<path class="c2" d="M778 371.2L786.2 371.2L786.2 366.2L793.8 366.2L793.8 371.2L800 372.5L797.5 386.2L788.8 386.2L791.2 388.8L787.5 393.8L781.2 386.2L777 380Z"/>
<path class="c4" d="M793.8 366.2L800 363.8L805.5 365L807.5 360L815 360L811.2 365L806.2 377.5L805 390L797.5 398.8L790 400L787.5 393.8L791.2 388.8L788.8 386.2L797.5 386.2L800 372.5L793.8 371.2Z"/>
<path class="c4" d="M816.2 353.8L825 352.5L840 353.8L850 350.2L855 355.5L861.2 354.5L867.5 359L869 365.8L864.5 371L861.8 378L863.2 381.2L860 390L860 397.5L862.5 407.5L865 416.2L857.5 420L856.2 427.5L861.2 431.2L857.5 436.2L850 430L838.8 428.8L831.2 428.8L828.8 413.8L820 410L818.8 415L810 415L807.5 405.5L791.2 405L790 400L797.5 398.8L805 390L806.2 377.5L811.2 365L815 360Z"/>
<path class="c4" d="M867.5 359L880 355.5L884 364.8L882 372L879.2 376L870.5 380.2L863.2 381.2L861.8 378L864.5 371L869 365.8Z"/>
<path style="fill:#57a6de" d="M880 355.5L887 352.2L895.2 357.5L902.5 359.5L907.8 356.5L911.8 357.5L909.2 363.8L908.8 379L911.8 383.8L905.5 390.5L901.5 398.2L895.2 391L881.5 381.2L883 377.5L881 376.5L879.2 376L882 372L884 364.8Z"/>
<path class="c3" d="M863.2 381.2L870.5 380.2L871 386.8L873.8 388.5L877.8 387.8L881.5 381.2L895.2 391L901.5 398.2L900 406.2L903.8 417.5L905 427.5L893.8 431.2L885 433L881.2 423.8L876.2 421.2L865 416.2L862.5 407.5L860 397.5L863.8 396.2L866.2 392.5L863.8 390L867.5 387.5L865 383Z"/>
<path style="fill:#2a74bb" d="M859.8 385.2L862.2 383.2L866.5 383.8L867 386.8L864 389L860.2 389Z"/>
<path style="fill:#1f60a8" d="M859.8 389.5L864 389.2L866.5 390.5L865.5 394.5L861.2 396L859.8 393.5Z"/>
<path class="w" d="M871 379L873.8 375.5L877.8 375L881 376.5L883 377.5L880.2 379L879.2 385.2L877.8 387.8L873.8 388.5L870.5 386.8Z"/>
<path class="w" d="M860.2 398L861.5 397.5L863 407.5L865.8 416.2L864.5 416.8L861.8 408Z"/>
<path class="c2" d="M791.2 405L807.5 405.5L810 415L818.8 415L820 410L828.8 413.8L831.2 428.8L838.8 428.8L838.8 437.5L830 438.8L831.2 460L825 461.2L787.5 458.8L786.2 452.5L790 440L793.8 430L792.5 417.5L790 408.8Z"/>
<path class="c1" d="M857.5 420L865 416.2L876.2 421.2L877 430L875 436.2L875.5 444.5L862.5 450L848.8 462L841.2 463L840 461.2L831.2 460L830 438.8L838.8 437.5L838.8 428.8L850 430L857.5 436.2L861.2 431.2L856.2 427.5Z"/>
<path class="c4" d="M885 433L893.8 431.2L905 427.5L906.2 447.5L900 456.2L890 462.5L881.2 475L883.8 485L881.2 493.8L871.2 500L870.2 506.2L869.8 504.5L866.2 490L865 483.8L870 480L873.8 470L873.8 457.5L863.8 452.5L862.5 450L875.5 444.5L881.2 445L879.5 452.5L882.5 458.8L886.2 451.2L885 445L883.8 433.8Z"/>
<path class="c2" d="M876.2 421.2L881.2 423.8L883.8 433.8L885 445L886.2 451.2L882.5 458.8L879.5 452.5L881.2 445L875.5 444.5L875 436.2L877 430Z"/>
<path class="w" d="M879.2 423.8L881 423.8L882.8 435L883.8 443.8L882.5 443.8L880.8 434.5Z"/>
<path class="c4" d="M841.2 463L848.8 462L862.5 450L863.8 452.5L873.8 457.5L873.8 470L870 480L865 483.8L856.2 482.5L848.8 472.5L843.8 466.2Z"/>
<path class="c1" d="M787.5 458.8L825 461.2L831.2 460L840 461.2L841.2 463.8L825 465L823.8 482.5L820 483.8L819.5 512.5L813.8 515L805 512.5L800 506.2L796.2 490L788.8 467.5Z"/>
<path class="c2" d="M825 465L841.2 463.8L843.8 466.2L848.8 472.5L856.2 482.5L850 487.5L845 496.2L838.8 500L830 497.5L826.2 505L822.5 505.5L820 500L820 483.8L823.8 482.5Z"/>
<path class="c3" d="M805 512.5L813.8 515L819.5 512.5L820 500L822.5 505.5L826.2 505L830 497.5L838.8 500L845 496.2L850 487.5L856.2 482.5L865 483.8L866.2 490L869.8 504.5L870.2 506.2L868.8 511.2L862.5 521.2L856.2 527.5L847.5 535L835 540L825 541.2L816.2 543.8L811.2 541.2L808.8 533.8L811.2 531.2L807.5 520Z"/>
<path class="c3" d="M847.5 517.5L852.5 515L855 518.8L851.2 523.8L848 521.2Z"/>
<path class="c2" d="M863 502L866.2 500.5L867.5 505.5L864 507Z"/>
<path class="c4" d="M915 482.5L920 458.8L925 453.8L935 448.8L941.2 440L942.5 433.8L946.2 448.8L941.2 462.5L935 480L928.8 496.2L921.2 500L916.2 496.2Z"/>
<path class="w" d="M916.2 433.8L922.5 433.2L922 437L918 437Z"/>
<path class="w" d="M962 476.2L966.2 475L966.2 480.5L962.5 480Z"/>
<path class="w" d="M971.2 473L975 472L976.2 476.2L972.5 477Z"/>
<ellipse class="dot" cx="970" cy="397.5" rx="4" ry="3.7" transform="rotate(0 970 397.5)"/>
<ellipse class="c5" cx="767" cy="374.2" rx="3.7" ry="4.3" transform="rotate(0 767 374.2)"/>
<ellipse class="c5" cx="1039.5" cy="355" rx="4" ry="3.7" transform="rotate(0 1039.5 355)"/>
<ellipse class="c5" cx="640.8" cy="300.5" rx="3.7" ry="4.3" transform="rotate(0 640.8 300.5)"/>
<!-- 42_mideast.txt -->
<path class="c1" d="M864.4 207.5L868.8 206.2L873.1 206.2L871.9 208.1L866.9 210Z"/>
<path class="c1" d="M880 201.2L886.9 199.4L900 198.5L901.2 200L899.4 204.4L900 208.8L891.9 215.6L885 220L881.2 218.8L879.4 213.8L880 208.8L878.8 206.2Z"/>
<path class="c2" d="M878.8 211.9L880.6 210.6L882.5 211.2L880.6 216.2L878.8 216.9Z"/>
<path class="c2" d="M877.5 219.4L879.4 217.5L880 221.9L878.8 228.8L876.9 226.2Z"/>
<path class="c1" d="M880 221.9L885 220L891.9 215.6L893.8 221.2L886.9 224.4L890 228.8L886.2 233.8L880.6 235.6L878.8 228.8Z"/>
<path class="c1" d="M900 208.8L899.4 204.4L901.2 200L900 198.5L910.6 196.9L915 202.5L918.8 205.6L916.9 213.1L922.5 217.5L927.5 223.8L929.4 231.2L925 236.2L916.9 235.6L907.5 228.8L898.1 222.5L893.8 221.2L891.9 215.6Z"/>
<path class="w" d="M925 236.2L927.5 231.9L930 232.5L931.9 238.1L928.1 236.9Z"/>
<path class="c2" d="M880.6 235.6L886.2 233.8L890 228.8L886.9 224.4L893.8 221.2L898.1 222.5L907.5 228.8L916.9 235.6L925 236.2L928.1 236.9L931.9 238.1L935 243.8L938.1 247.5L940 250L942.5 253.8L946.2 258.8L950 263.8L953.1 266.9L962.5 267.5L964.4 271.9L963.1 280L951.2 285.6L935 288.8L931.9 293.8L915.6 292.5L914.4 297.5L910 290L903.8 281.2L897.5 273.1L896.2 266.2L891.2 260L887.5 255L883.8 247.5L878.1 240Z"/>
<path class="c3" d="M909.4 186.2L912.5 188.1L916.9 189.4L922.5 186.2L923.8 190L927.5 191.2L928.1 195L932.5 197.5L940 200.2L947.5 198.1L947.5 196.2L957.5 193.1L966.2 196.2L976.2 201.9L981.2 206.9L978.1 210L976.9 217.5L980 225L983.8 227.5L981.9 233.8L985 237.5L991.2 245L992.5 247.5L987.5 250L986.9 255L980 254.4L972.5 252.5L968.8 250L966.2 248.1L958.8 249.4L950 245L945 243.8L940 238.1L935 232.5L929.4 231.2L927.5 223.8L922.5 217.5L916.9 213.1L918.8 205.6L915 202.5L910.6 196.9L912.5 194.4Z"/>
<path class="c2" d="M915.6 292.5L931.9 293.8L935 288.8L951.2 285.6L955.6 296.2L952.5 301.2L946.2 305L937.5 309.4L927.5 313.8L921.2 315.6L916.9 313.8L915 305L914.4 297.5Z"/>
<path class="c2" d="M951.2 285.6L963.1 280L964.4 271.9L962.5 267.5L965 257.5L965.6 255L970 261.2L975 262.5L981 268.8L977.5 276.9L975 282.5L970 288.8L963.8 293.8L955.6 296.2Z"/>
<path class="c2" d="M946.2 258.8L956.2 260.6L961.2 256.2L964.4 252.5L965 257.5L962.5 267.5L953.1 266.9L950 263.8Z"/>
<path class="c2" d="M942.5 251.2L945 250.6L946.2 255L944.4 256.9L942.5 254.4Z"/>
<path class="c2" d="M938.8 242.5L941.2 240.6L943.1 243.8L941.2 246.2L940 245Z"/>
<path class="c2" d="M978.8 205L983.8 206.2L988.1 202.5L991.2 197.5L996.9 195.6L1001.2 196.9L1002.5 198.8L1010.6 195L1012.5 191.9L1015 193.8L1017.5 198.8L1022.5 196.9L1028.8 196.2L1021.2 200L1017.5 203.1L1016.2 207.5L1015.6 212.5L1013.8 215L1011.9 220L1007.5 223.5L1005 225L1001.2 231.2L992.5 235L985 234.4L981.9 233.8L983.8 227.5L980 225L976.9 217.5L978.1 210Z"/>
<path class="c1" d="M985 237.5L981.9 233.8L985 234.4L992.5 235L1001.2 231.2L1005 225L1007.5 223.5L1011.9 220L1013.8 215L1015.6 212.5L1016.2 207.5L1017.5 203.1L1021.2 200.6L1026.9 207.5L1028.8 213.8L1031.9 218.1L1036.2 221.2L1034.4 226.2L1030 235L1026.2 241.9L1021.2 243.1L1016.9 245.6L1025 259.4L1012.5 261.9L1005 254.4L987.5 255L987.5 250L992.5 247.5L991.2 245Z"/>
<!-- 50_sasia_seasia.txt -->
<path class="c1" d="M1048.4 219.9L1051.5 225.6L1059 230.9L1069.1 234.4L1079.7 238.4L1088.1 241.5L1092.1 242.4L1095.1 241.5L1097.4 240.6L1105.3 241.9L1109.7 240.6L1115 235.7L1122.5 235.3L1124.3 238.8L1128.2 239.3L1127.4 242.4L1122.9 245L1120.3 248.5L1119 260.9L1115.9 261.8L1114.1 269.7L1112.8 273.7L1111 268.8L1109.7 265.3L1107.9 268.8L1105.3 270.1L1100 271.5L1092.1 273.2L1085 285L1075 296.2L1069.5 302.5L1067.5 327.5L1060 338L1052.5 322.5L1045 305L1037.5 287.5L1035 275L1032 270L1027.5 277.5L1017.5 268.8L1024.5 265.5L1015 262.5L1025 260L1017.5 245L1027.5 240L1032.5 227.5L1035 221.2L1037.5 215.5L1048.8 217Z"/>
<path class="c1" d="M1059 231.1L1057.6 237.5L1072.6 245L1076.2 244.6L1084.1 249L1091.2 249L1092.1 242.4L1088.1 241.5L1079.7 238.4L1069.1 234.4Z"/>
<path class="c1" d="M1095.1 241.5L1097.4 240.6L1105.3 241.9L1107.5 246.8L1100.9 247.6L1095.6 247.2L1094.3 245Z"/>
<path class="c1" d="M1092.9 249.9L1097.4 250.3L1100 253.8L1105.3 255.6L1110.6 255.1L1109.7 260L1107.1 260.9L1109.7 265.3L1107.9 268.8L1105.3 270.1L1100 271.5L1097.4 264.4L1093.8 257.4L1094.7 253.8Z"/>
<path class="c1 ln" d="M1107.5 246.8L1114.1 245.9L1119.4 240.6L1127.4 241.5"/>
<path class="c1 ln" d="M1092.1 242.5L1092.2 249"/>
<path class="c1 ln" d="M1110.1 262.6L1113.1 272.8"/>
<path class="c1" d="M1067.5 335L1071.2 328.8L1076.2 336.2L1078 343.8L1073.8 348.8L1069.5 345Z"/>
<ellipse class="c5" cx="1039.2" cy="355" rx="4" ry="3.7" transform="rotate(0 1039.2 355)"/>
<path class="c5" d="M1128.2 239.2L1133.5 243.2L1135.2 251.2L1131.2 258.2L1139.8 264.5L1143.2 270.5L1149.5 272.5L1143.8 277.5L1137 283.8L1137.5 291.2L1143.8 305L1147.5 317.5L1150 312.5L1149.5 327.5L1145 336.2L1143.8 320L1140 307.5L1135 295L1132.5 300L1126.2 301.2L1123.8 290L1116.2 275L1112.8 273.8L1114 269.8L1116 261.8L1119 261L1120.2 248.5L1123 245L1127.5 242.5Z"/>
<path class="c5" d="M1137 283.8L1143.8 277.5L1147.5 273.8L1148.8 280L1153.8 290L1162.5 288.8L1171.2 296.2L1172.5 307.5L1162.5 307.5L1160 315L1165 325L1160 318.8L1151.2 317.5L1150 312.5L1149.5 327.5L1147.5 317.5L1143.8 305L1137.5 291.2Z"/>
<path class="c5" d="M1147.5 273.8L1152.5 268.8L1160 271.2L1162.5 277.5L1167.5 280L1162.5 283.8L1175 298.8L1180 307.5L1172.5 307.5L1171.2 296.2L1162.5 288.8L1153.8 290L1148.8 280Z"/>
<path class="c5" d="M1152.5 268.8L1163.8 264.5L1172.5 268.8L1177.5 275L1172.5 280L1170 285L1180 297.5L1187.5 307.5L1188.8 317.5L1183.8 325L1178.8 327.5L1172.5 335L1171.2 327.5L1176.2 322.5L1180 317.5L1180 307.5L1175 298.8L1162.5 283.8L1167.5 280L1162.5 277.5L1160 271.2Z"/>
<path class="c5" d="M1162.5 307.5L1172.5 307.5L1180 307.5L1180 317.5L1176.2 322.5L1171.2 327.5L1165 325L1160 315Z"/>
<path class="c5" d="M1231.1 286.7L1237.8 287.2L1239.9 290.3L1239.9 294.9L1237.8 299.6L1238.3 304.7L1240.9 308.8L1244 311.9L1242.9 313.5L1238.8 312.4L1234.7 309.3L1231.6 304.2L1229.6 298.5L1231.1 297L1230.6 291.3Z"/>
<path class="c5" d="M1240.9 319.1L1245.5 321.2L1242.4 325.8Z"/>
<path class="c5" d="M1246 316L1249.6 318.6L1251.7 321.2L1248.6 318.6Z"/>
<path class="c5" d="M1250.2 316L1254.3 316L1256.8 323.2L1254.3 321.2L1252.2 319.6Z"/>
<path class="c5" d="M1246 324.3L1247.6 323.2L1248.1 331.5L1245 328.4Z"/>
<path class="c5" d="M1251.7 322.7L1255.3 327.9L1252.7 325.3Z"/>
<path class="c5" d="M1222.9 336.1L1230.1 325.3L1231.6 321.7L1234.2 325.3L1231.6 327.4L1223.9 337.1Z"/>
<path class="c5" d="M1242.9 343.3L1244 338.7L1248.1 336.1L1251.2 337.1L1253.2 334.6L1255.3 330.5L1258.4 331.5L1261.5 335.6L1262.5 341.8L1260.5 345.9L1258.4 343.8L1257.9 348L1255.3 346.9L1252.2 341.8L1249.6 339.2L1246 339.7L1244.5 340.7Z"/>
<ellipse class="dot" cx="1292.5" cy="344.2" rx="4" ry="4.3" transform="rotate(0 1292.5 344.2)"/>
<ellipse class="dot" cx="1355" cy="339.5" rx="4" ry="4.3" transform="rotate(0 1355 339.5)"/>
<path class="c4" d="M1131.2 350.5L1141.8 351.2L1144.5 354.5L1154.4 363.1L1163.7 373.7L1174.3 386.9L1176.2 398.2L1171.6 401.5L1163.7 396.2L1155.1 388.2L1155.1 384.3L1149.8 375L1145.8 368.4L1140.5 363.1L1139.9 359.8Z"/>
<path class="c5" d="M1149.5 327.5L1152.4 331.3L1155.1 340.6L1159.7 344.6L1161 347.9L1157.7 348.5L1153.1 344.6L1148.5 337.9L1145.1 335.3Z"/>
<path class="c4" d="M1153.1 344.6L1155.7 345.9L1157.7 348.5L1161 347.9L1165 351.2L1167.6 357.8L1168.3 364.4L1171.6 369.7L1168.3 370.4L1163.7 365.7L1158.4 362.4L1155.1 353.8Z"/>
<ellipse class="c4" cx="1170" cy="372.6" rx="3.6" ry="3.6" transform="rotate(0 1170 372.6)"/>
<path class="c4" d="M1174.3 385.6L1177.6 383.6L1180.2 390.2L1178.2 389.6Z"/>
<path class="c4" d="M1184.2 388.9L1186.8 388.2L1187.5 391.5L1184.8 391.9Z"/>
<path class="c4" d="M1190.8 367.7L1193.5 367.1L1196.1 369.7L1199.4 368.4L1200.1 364.4L1206 361.8L1210 356.5L1214.6 351.8L1221.9 342.6L1225.2 343.9L1226.5 347.9L1233.8 350.5L1229.2 352.5L1228.5 355.8L1225.9 356.5L1227.2 362.4L1228.5 368.4L1232.5 371.7L1227.9 372.4L1225.9 381L1221.9 384.3L1220.6 394.8L1212.6 396.2L1204.7 394.2L1196.8 390.2L1193.5 382.9L1191.5 375Z"/>
<path class="c4 ln" d="M1196.1 369.7L1198.1 372.4L1206 369L1210 370.4L1214.6 368.4L1215.3 365.1L1218.6 361.1L1219.3 356.5L1225.9 356.5"/>
<ellipse class="c4" cx="1214.2" cy="354.9" rx="1.7" ry="1.7" transform="rotate(0 1214.2 354.9)"/>
<path class="c4" d="M1232.5 392.9L1231.8 388.2L1235.1 376.3L1239.1 371L1252.3 371.7L1257.6 368.4L1258.3 369.7L1254.3 374.3L1243.7 374.3L1237.8 377L1239.1 381.6L1250.4 379L1251.7 382.9L1243.1 384.9L1239.8 387.6L1245.1 392.2L1251 395.5L1250.4 402.8L1243.7 402.1L1239.8 392.2L1237.8 390.2L1237.1 403.5L1233.2 403.5Z"/>
<path class="c4" d="M1265.6 382.9L1266.2 372.4L1268.2 366.4L1271.5 363.7L1272.2 375L1270.2 384.3Z"/>
<path class="c4" d="M1175.6 408.1L1179.6 404.8L1190.1 406.1L1199.4 406.8L1204.7 408.1L1208 410.7L1215.3 412.7L1213.3 416L1204.7 416.7L1196.8 413.4L1183.5 412.1Z"/>
<path class="c4" d="M1260.9 391.5L1264.9 391.1L1265.6 394.2L1262.3 394.6Z"/>
<path class="c4" d="M1268.9 390.9L1276.2 389.8L1281.5 392.9L1280.8 394.8L1274.8 393.3L1268.9 393.5Z"/>
<path class="c4" d="M1221 418L1228.5 419.5L1224.8 420.5Z"/>
<path class="c4" d="M1236 417.5L1246 417L1246 418.8L1237.2 419.2Z"/>
<path class="c4" d="M1231 423.8L1236 424.5L1234.8 425.5Z"/>
<path class="c4" d="M1249.8 422.5L1258.5 418.8L1262.2 418L1261 420L1252.2 423.8Z"/>
<ellipse class="c4" cx="1266.5" cy="426.2" rx="3.8" ry="4.2" transform="rotate(0 1266.5 426.2)"/>
<path class="c4" d="M1279.8 381.2L1286 378.8L1293.5 379.5L1296 385L1292.2 388L1286 387.5Z"/>
<path class="c4" d="M1286 388.8L1297.2 388.8L1298.5 391.2L1309.8 383.8L1322.2 390L1321 417.5L1307.2 416.2L1312.2 410L1308.5 402.5L1303.5 398.8L1297.2 396.2L1289.8 395.5Z"/>
<path class="c5" d="M1322.2 390L1336 396.2L1343.5 400L1343.5 403.8L1349.8 406.2L1347.2 410L1356 420L1361 427.5L1348.5 423.8L1341 415L1336 417.5L1326 421.2L1321 417.5Z"/>
<path class="c5" d="M1353 403.8L1361 401.2L1367.2 398L1371 392.5L1364 389.5L1365.5 388.2L1373.5 393.8L1372.2 400L1366 403.8L1357.2 406.2Z"/>
<ellipse class="c5" cx="1404.2" cy="418.2" rx="4" ry="4.3" transform="rotate(0 1404.2 418.2)"/>
<ellipse class="dot" cx="1292.2" cy="344.2" rx="4" ry="4.3" transform="rotate(0 1292.2 344.2)"/>
<ellipse class="dot" cx="1354.8" cy="340" rx="4" ry="4.3" transform="rotate(0 1354.8 340)"/>
<ellipse class="dot" cx="1443" cy="344.5" rx="4" ry="4.3" transform="rotate(0 1443 344.5)"/>
<ellipse class="dot" cx="1431" cy="378.8" rx="4" ry="4.3" transform="rotate(0 1431 378.8)"/>
<path class="c3" d="M1201 481.2L1208.5 477.5L1223.5 472.5L1232.2 470L1238.5 457.5L1243.5 460L1248.5 450L1258.5 442.5L1264.8 447.5L1271 442.5L1283.5 430L1293.5 435L1302.2 429.5L1303.5 435L1295.5 447.5L1313.5 461.2L1319.8 440L1326.5 428.8L1332.2 442.5L1334.8 450L1334.8 465L1343.5 472.5L1346 483.8L1349.8 486.2L1354.8 497.5L1351 512.5L1346 521.2L1339.8 532.5L1327.2 545L1318.5 557.5L1311 558.8L1301 563.8L1298.5 560L1293.5 563.8L1283.5 560L1279.8 555L1278.5 547.5L1272.2 546.2L1281 535.5L1269.8 543.8L1264.8 530L1258.5 527.5L1248.5 528.8L1234.8 532.5L1222.2 540L1208.5 540L1197.2 545L1189.8 540L1194.8 533.8L1196 522.5L1194 510L1197.2 501.2L1193 500L1197.2 493.8L1196 487.5Z"/>
<path class="c3" d="M1288 576.2L1291 572.5L1298.5 573.8L1303.5 573L1299.8 580L1293.5 586.2L1288.5 585Z"/>
<path class="c4" d="M1358 597.5L1363.5 592.5L1373.5 587.5L1384.8 582L1386.8 583.8L1381 590L1371 597.5L1362.2 600.5Z"/>
<!-- 55_kashmir.txt -->
<path class="na" d="M1021.2 200L1028.8 198.8L1035 201.2L1041.2 205L1046.2 211.2L1049.4 215L1051.2 220L1043.8 218.8L1038.8 218.1L1036.2 220.6L1032.5 217.5L1029.4 215L1027.5 210.6L1026.2 205Z"/>
<path class="na ln" d="M1027.5 210.6L1032.5 210L1039.4 209.4"/>
</svg>
<svg width="1448" height="680" viewBox="0 0 1448 680" class="txt">
<rect x="23" y="507" width="43" height="33" fill="#08519c"/>
<rect x="23" y="540" width="43" height="33" fill="#3182bd"/>
<rect x="23" y="573" width="43" height="33" fill="#6baed6"/>
<rect x="23" y="606" width="43" height="33" fill="#9ecae1"/>
<rect x="23" y="639" width="43" height="33.5" fill="#c6dbef"/>
<rect x="200.5" y="601.7" width="43.2" height="35" fill="#808080"/>
<rect x="201.2" y="637.4" width="41.8" height="31.6" fill="#eeeff1" stroke="#808080" stroke-width="1.4"/>
<g font-size="23.2" fill="#1d1d1b">
<text x="22.5" y="460.3" textLength="355" lengthAdjust="spacingAndGlyphs">Age-standardised rates (World)</text>
<text x="23" y="490.6" textLength="136.5" lengthAdjust="spacingAndGlyphs">per 100 000</text>
<text x="74" y="532.6" textLength="55.5" lengthAdjust="spacingAndGlyphs">≥ 8.4</text>
<text x="73.5" y="565.5" textLength="83.5" lengthAdjust="spacingAndGlyphs">5.8–8.4</text>
<text x="73.5" y="598.4" textLength="83.5" lengthAdjust="spacingAndGlyphs">4.7–5.8</text>
<text x="73.5" y="631.6" textLength="83.5" lengthAdjust="spacingAndGlyphs">3.3–4.7</text>
<text x="74" y="664.6" textLength="56" lengthAdjust="spacingAndGlyphs">&lt; 3.3</text>
<text x="252.5" y="629.3" textLength="166" lengthAdjust="spacingAndGlyphs">Not applicable</text>
<text x="252.5" y="663.5" textLength="90.5" lengthAdjust="spacingAndGlyphs">No data</text>
</g>
<g font-size="20.2" fill="#1d1d1b">
<text x="704.5" y="597.7" textLength="272.5" lengthAdjust="spacingAndGlyphs">Data source: Globocan 2018</text>
<text x="704.8" y="623.3" textLength="608.5" lengthAdjust="spacingAndGlyphs">Graph production: International Agency for Research on Cancer</text>
<text x="705.5" y="649.4" textLength="225.5" lengthAdjust="spacingAndGlyphs">(http://gco.iarc.fr/today)</text>
<text x="705.5" y="674.8" textLength="247.5" lengthAdjust="spacingAndGlyphs">World Health Organization</text>
</g>
</svg>
</body>
</html>
